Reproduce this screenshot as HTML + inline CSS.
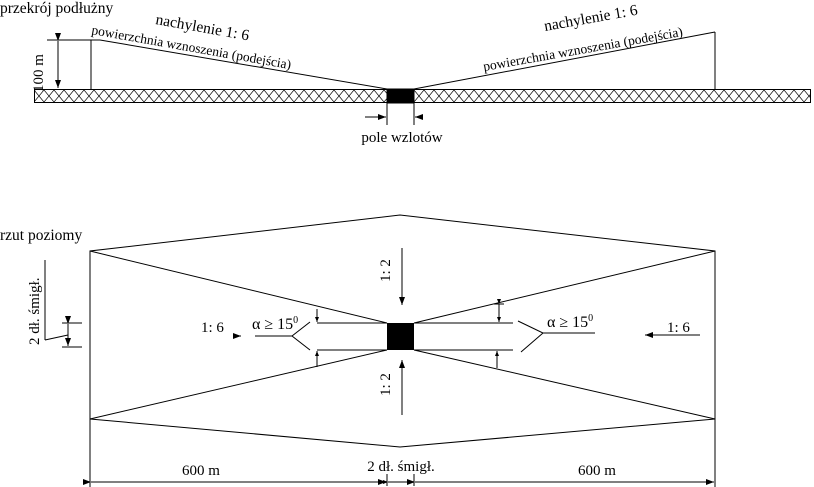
<!DOCTYPE html>
<html><head><meta charset="utf-8"><style>
html,body{margin:0;padding:0;background:#fff;}
svg{display:block;}
text{font-family:"Liberation Serif",serif;fill:#000;}
</style></head><body>
<svg width="814" height="487" viewBox="0 0 814 487" xmlns="http://www.w3.org/2000/svg">
<defs>
<pattern id="h" x="34" y="89" width="10" height="14" patternUnits="userSpaceOnUse">
<path d="M0,1 Q5,7 10,13 M0,13 Q5,7 10,1" stroke="#000" stroke-width="0.7" fill="none"/>
</pattern>
<marker id="a" markerWidth="8" markerHeight="6" refX="8" refY="3" orient="auto" markerUnits="userSpaceOnUse"><path d="M0,0 L8,3 L0,6z" fill="#000"/></marker>
<marker id="s" markerWidth="5" markerHeight="4" refX="5" refY="2" orient="auto" markerUnits="userSpaceOnUse"><path d="M0,0 L5,2 L0,4z" fill="#000"/></marker>
</defs>
<g stroke="#000" stroke-width="1" fill="none">
<rect x="34.5" y="89.5" width="776" height="13" fill="url(#h)"/>
<rect x="387" y="89" width="27" height="14" fill="#000"/>
<line x1="91" y1="40" x2="91" y2="89"/>
<line x1="47" y1="40" x2="100" y2="40"/>
<line x1="100" y1="40" x2="387" y2="89"/>
<line x1="58" y1="41" x2="58" y2="88" marker-start="url(#a)" marker-end="url(#a)"/>
<line x1="715" y1="32" x2="715" y2="89"/>
<line x1="715" y1="32" x2="414" y2="89"/>
<line x1="387" y1="103" x2="387" y2="125"/>
<line x1="414" y1="103" x2="414" y2="125"/>
<line x1="365" y1="117" x2="386" y2="117" marker-end="url(#a)"/>
<line x1="422" y1="117" x2="415" y2="117" marker-end="url(#a)"/>
<polyline points="90,487 90,251 400,215 715,251 715,487"/>
<polyline points="90,419 400,447 715,419"/>
<line x1="90" y1="251" x2="387" y2="323"/>
<line x1="90" y1="419" x2="387" y2="350"/>
<line x1="715" y1="251" x2="414" y2="323"/>
<line x1="715" y1="419" x2="414" y2="350"/>
<line x1="317" y1="323" x2="387" y2="323"/>
<line x1="317" y1="350" x2="387" y2="350"/>
<line x1="414" y1="323" x2="513" y2="323"/>
<line x1="414" y1="350" x2="513" y2="350"/>
<polyline points="310,322 292,336 310,350"/>
<line x1="255" y1="336" x2="292" y2="336"/>
<polyline points="518,321 543,333 521,352"/>
<line x1="543" y1="333" x2="595" y2="333"/>
<line x1="317" y1="309" x2="317" y2="322" marker-end="url(#s)"/>
<line x1="317" y1="367" x2="317" y2="351" marker-end="url(#s)"/>
<line x1="499" y1="304" x2="499" y2="322" marker-start="url(#s)" marker-end="url(#s)"/>
<line x1="494" y1="304" x2="504" y2="304"/>
<line x1="497" y1="368" x2="497" y2="351" marker-end="url(#s)"/>
<line x1="402" y1="248" x2="402" y2="305" marker-end="url(#a)"/>
<line x1="402" y1="415" x2="402" y2="360" marker-end="url(#a)"/>
<line x1="700" y1="335" x2="645" y2="335" marker-end="url(#a)"/>
<line x1="233" y1="336" x2="241" y2="336" marker-end="url(#a)"/>
<line x1="45" y1="260" x2="45" y2="340"/>
<line x1="45" y1="340" x2="68" y2="335"/>
<line x1="62" y1="323" x2="82" y2="323"/>
<line x1="62" y1="347" x2="82" y2="347"/>
<line x1="68" y1="324" x2="68" y2="346" marker-start="url(#a)" marker-end="url(#a)"/>
<line x1="91" y1="482" x2="386" y2="482" marker-start="url(#a)" marker-end="url(#a)"/>
<line x1="388" y1="482" x2="413" y2="482" marker-start="url(#s)" marker-end="url(#s)"/>
<line x1="415" y1="482" x2="714" y2="482" marker-start="url(#a)" marker-end="url(#a)"/>
<line x1="387" y1="474" x2="387" y2="486"/>
<line x1="414" y1="474" x2="414" y2="486"/>
</g>
<rect x="387" y="323" width="27" height="27" fill="#000"/>
<text x="0" y="13" font-size="15.5">przekrój podłużny</text>
<text x="0" y="240" font-size="15.5">rzut poziomy</text>
<text x="155" y="24" font-size="15.5" transform="rotate(10 155 24)">nachylenie 1: 6</text>
<text x="91" y="34" font-size="13.5" transform="rotate(10 91 34)">powierzchnia wznoszenia (podejścia)</text>
<text x="545" y="31" font-size="15.5" transform="rotate(-10 545 31)">nachylenie 1: 6</text>
<text x="484" y="71" font-size="13.5" transform="rotate(-10 484 71)">powierzchnia wznoszenia (podejścia)</text>
<text x="43" y="92" font-size="15" transform="rotate(-90 43 92)">100 m</text>
<text x="402" y="142" font-size="15" text-anchor="middle">pole wzlotów</text>
<text x="390" y="282" font-size="15" transform="rotate(-90 390 282)">1: 2</text>
<text x="390" y="396" font-size="15" transform="rotate(-90 390 396)">1: 2</text>
<text x="201" y="332" font-size="15">1: 6</text>
<text x="667" y="332" font-size="15">1: 6</text>
<text x="252" y="329" font-size="16">α &#8805; 15<tspan font-size="10" dy="-6">0</tspan></text>
<text x="547" y="327" font-size="16">α &#8805; 15<tspan font-size="10" dy="-6">0</tspan></text>
<text x="39" y="345" font-size="15" transform="rotate(-90 39 345)">2 dł. śmigł.</text>
<text x="201" y="475" font-size="15" text-anchor="middle">600 m</text>
<text x="401" y="471" font-size="15" text-anchor="middle">2 dł. śmigł.</text>
<text x="597" y="475" font-size="15" text-anchor="middle">600 m</text>
</svg>
</body></html>
